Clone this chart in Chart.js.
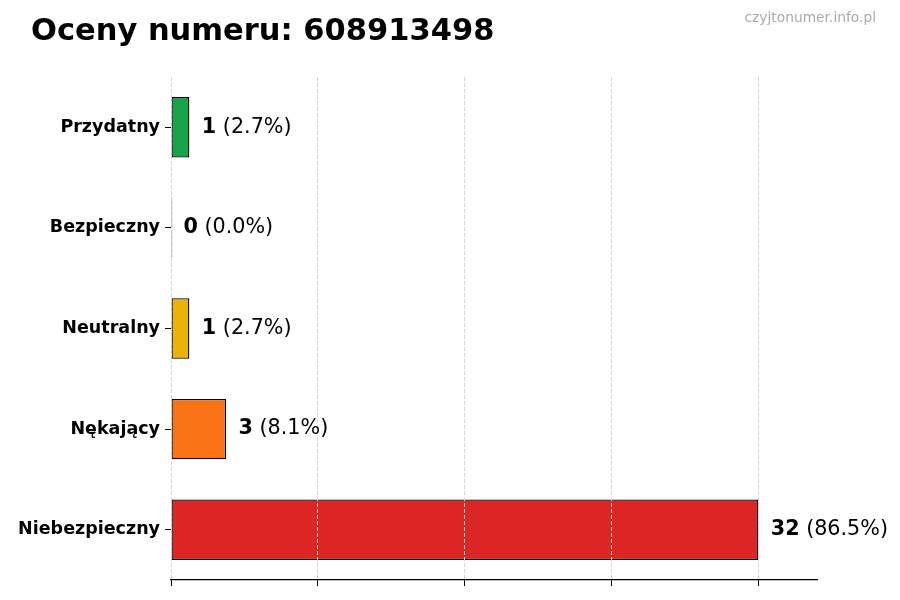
<!DOCTYPE html>
<html>
<head>
<meta charset="utf-8">
<title>Oceny numeru</title>
<script src="https://cdn.jsdelivr.net/npm/chart.js@4.4.0/dist/chart.umd.min.js"></script>
<style>
html, body { margin: 0; padding: 0; background: #ffffff; }
</style>
</head>
<body>
<canvas id="myCanvas" width="900" height="600"></canvas>
<script>
// dane wykresu
var chartTitle = 'Oceny numeru: 608913498';
var watermark = 'czyjtonumer.info.pl';
var categories = ['Przydatny', 'Bezpieczny', 'Neutralny', 'Nękający', 'Niebezpieczny'];
var counts = [1, 0, 1, 3, 32];
var xTicks = [0, 8, 16, 24, 32];
var xMax = 35.2;

var total = counts.reduce(function(a, b) { return a + b; }, 0);

// tytul, znak wodny i etykiety wartosci
var textPlugin = {
	id: 'texts',
	afterDraw: function(chart) {
		var ctx = chart.ctx;
		ctx.save();
		ctx.textBaseline = 'alphabetic';
		ctx.fillStyle = '#000000';
		ctx.textAlign = 'left';
		ctx.font = 'bold 30.5px "DejaVu Sans"';
		ctx.fillText(chartTitle, 31, 40);

		ctx.fillStyle = '#aaaaaa';
		ctx.textAlign = 'right';
		ctx.font = '13.8px "DejaVu Sans"';
		ctx.fillText(watermark, 876, 22);

		var meta = chart.getDatasetMeta(0);
		ctx.textAlign = 'left';
		ctx.textBaseline = 'middle';
		ctx.fillStyle = '#000000';
		meta.data.forEach(function(bar, i) {
			var v = counts[i];
			var pct = ' (' + (v / total * 100).toFixed(1) + '%)';
			var x = chart.scales.x.getPixelForValue(v) + 12.5;
			ctx.font = 'bold 20.7px "DejaVu Sans"';
			ctx.fillText(String(v), x, bar.y);
			var w = ctx.measureText(String(v)).width;
			ctx.font = '20.7px "DejaVu Sans"';
			ctx.fillText(pct, x + w, bar.y);
		});
		ctx.restore();
	}
};

var ctx = document.getElementById('myCanvas').getContext('2d');
var myChart = new Chart(ctx, {
	type: 'bar',
	data: {
		labels: categories,
		datasets: [{
			data: counts,
			backgroundColor: ['#16a34a', '#2563eb', '#eab308', '#f97316', '#dc2626'],
			borderColor: '#000000',
			borderWidth: 1.3,
			borderSkipped: false,
			minBarLength: 1.3,
			barPercentage: 0.6,
			categoryPercentage: 1.0
		}]
	},
	options: {
		indexAxis: 'y',
		responsive: false,
		animation: false,
		layout: {
			padding: { top: 77, right: 83, bottom: 0, left: 0 }
		},
		scales: {
			x: {
				min: 0,
				max: xMax,
				afterBuildTicks: function(scale) {
					scale.ticks = xTicks.map(function(v) { return { value: v }; });
				},
				afterFit: function(scale) { scale.height = 20; },
				ticks: { display: false },
				grid: {
					z: 1,
					color: '#d6d6d6',
					lineWidth: 1,
					tickColor: '#000000',
					tickLength: 6,
					tickWidth: 1
				},
				border: {
					display: true,
					z: 2,
					color: '#000000',
					width: 1.2,
					dash: [4, 2]
				}
			},
			y: {
				afterFit: function(scale) { scale.width = 171; },
				ticks: {
					color: '#000000',
					padding: 5,
					font: { family: '"DejaVu Sans"', size: 17.5, weight: 'bold' }
				},
				grid: {
					offset: false,
					drawOnChartArea: false,
					drawTicks: true,
					tickLength: 6,
					tickColor: '#000000',
					tickWidth: 1
				},
				border: { display: false }
			}
		},
		plugins: {
			legend: { display: false },
			tooltip: { enabled: false },
			title: { display: false }
		}
	},
	plugins: [textPlugin]
});
</script>
</body>
</html>
